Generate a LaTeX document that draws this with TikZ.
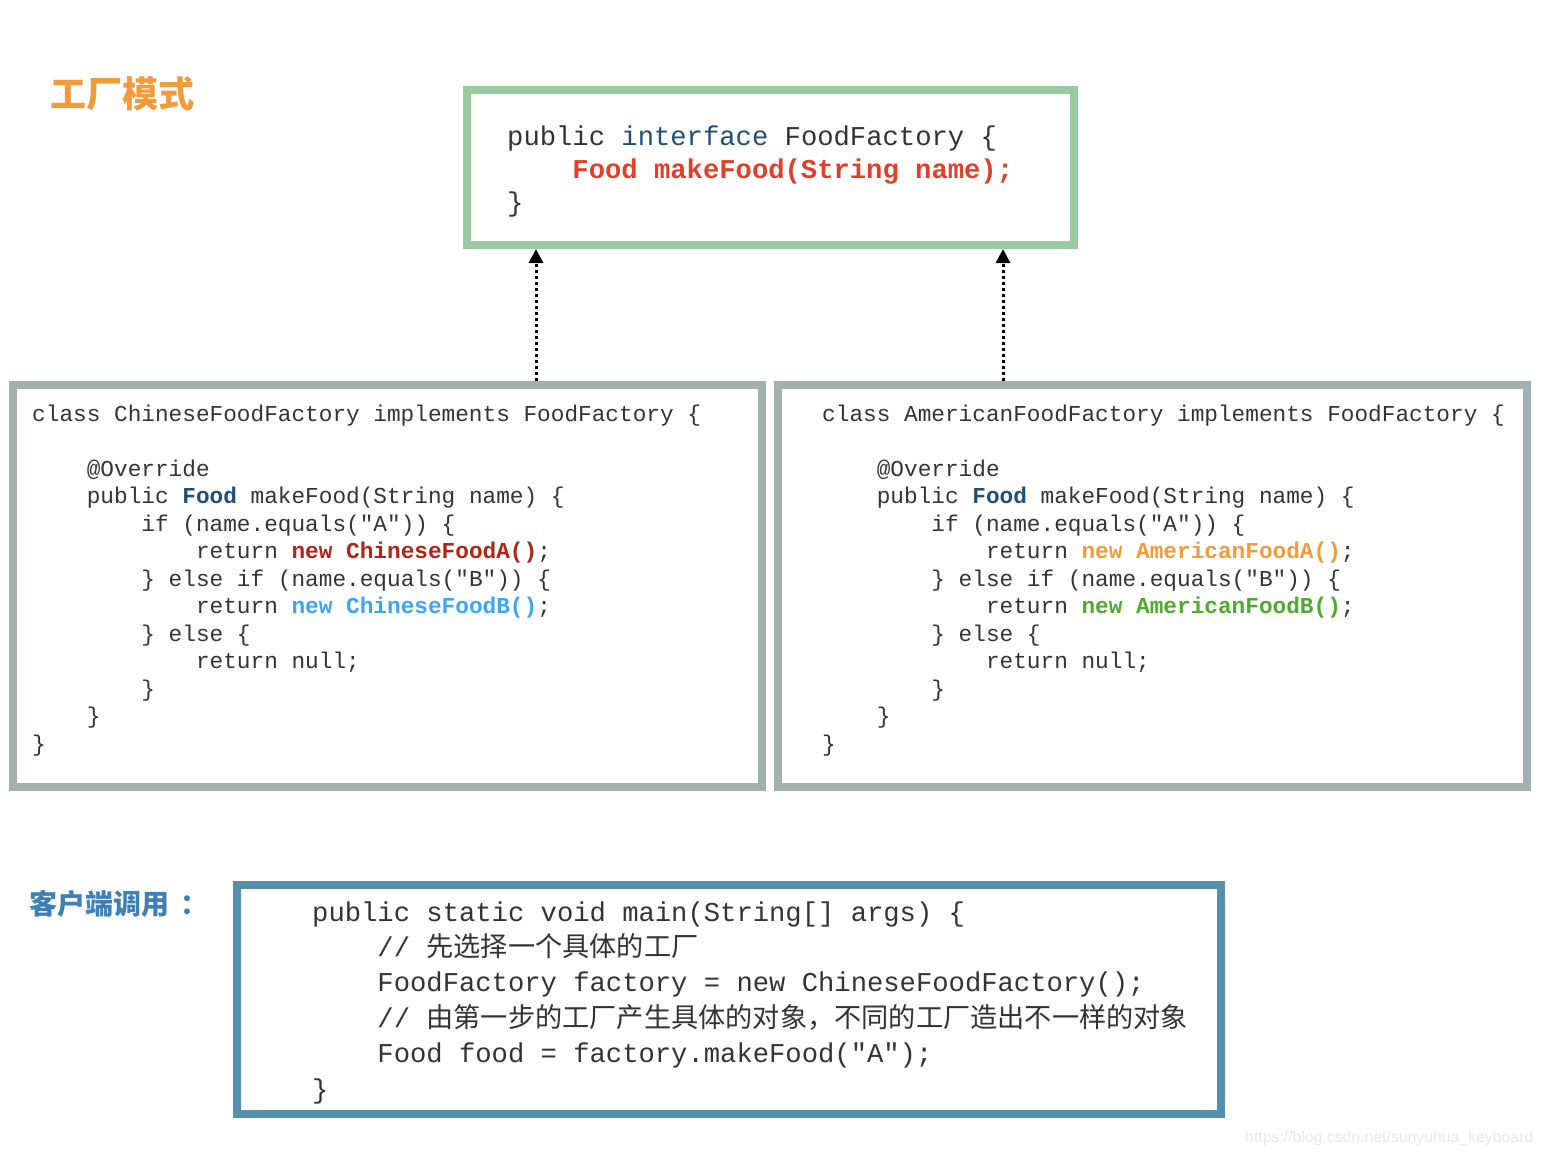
\documentclass[tikz,border=0pt]{standalone}
\usepackage{fontspec}
\setmonofont{Liberation Mono}
\newfontfamily\cjk{Noto Sans CJK SC}
\newfontfamily\wmfont{Liberation Sans}
\usetikzlibrary{arrows.meta,calc}
\definecolor{ifacegreen}{RGB}{153,203,163}
\definecolor{factgray}{RGB}{163,176,176}
\definecolor{clientframe}{RGB}{85,145,172}
\definecolor{codegray}{RGB}{51,51,51}
\definecolor{kwblue}{RGB}{31,78,121}
\definecolor{sigred}{RGB}{224,64,42}
\definecolor{cnred}{RGB}{178,36,22}
\definecolor{cnblue}{RGB}{60,165,245}
\definecolor{usorange}{RGB}{243,155,58}
\definecolor{usgreen}{RGB}{80,170,45}
\definecolor{titleorange}{RGB}{243,155,58}
\definecolor{clientblue}{RGB}{62,128,182}
\definecolor{wmgray}{RGB}{232,232,232}
\newcommand\pad[1]{\hspace*{#1\dimexpr0.6em\relax}}

\begin{document}
\begin{tikzpicture}[
        x=1pt, y=-1pt,
        frame/.style={rectangle, draw, line width=8pt, inner sep=0pt},
        code/.style={anchor=base west, inner sep=0pt, align=left, text=codegray},
        bigcode/.style={code, font=\ttfamily\fontsize{27.2}{33}\selectfont},
        smallcode/.style={code, font=\ttfamily\fontsize{22.75}{27.5}\selectfont},
        maincode/.style={code, font=\ttfamily\fontsize{27.2}{35.4}\selectfont},
        heading/.style={anchor=base west, inner sep=0pt},
        dep/.style={line width=3pt, dash pattern=on 3pt off 3pt, -{Triangle[width=14pt,length=14pt]}}
    ]
        \useasboundingbox (0,0) rectangle (1542,1154);

        % frames
        \node[frame, draw=ifacegreen, minimum width=607pt, minimum height=155pt] (iface) at (770.5,167.5) {};
        \node[frame, draw=factgray, minimum width=749.5pt, minimum height=402pt] (cnfac) at (387.25,586) {};
        \node[frame, draw=factgray, minimum width=749pt, minimum height=402pt] (usfac) at (1152.5,586) {};
        \node[frame, draw=clientframe, minimum width=984pt, minimum height=229pt] (client) at (729,999.5) {};

        % headings
        \node[heading, font=\cjk\bfseries\fontsize{36}{40}\selectfont, text=titleorange] (title) at (50.5,107.5) {工厂模式};
        \node[heading, font=\cjk\bfseries\fontsize{28}{32}\selectfont, text=clientblue] (clientlab) at (29,914) {客户端调用\hspace{11pt}：};

        % code
        \node[bigcode] (ifacecode) at (507,211) {public {\color{kwblue}interface} FoodFactory \{\\
            \pad{4}{\bfseries\color{sigred}Food makeFood(String name);}\\
            \}};

        \node[smallcode] (cncode) at (32,751) {class ChineseFoodFactory implements FoodFactory \{\\
            ~\\
            \pad{4}@Override\\
            \pad{4}public {\bfseries\color{kwblue}Food} makeFood(String name) \{\\
            \pad{8}if (name.equals("A")) \{\\
            \pad{12}return {\bfseries\color{cnred}new ChineseFoodA()};\\
            \pad{8}\} else if (name.equals("B")) \{\\
            \pad{12}return {\bfseries\color{cnblue}new ChineseFoodB()};\\
            \pad{8}\} else \{\\
            \pad{12}return null;\\
            \pad{8}\}\\
            \pad{4}\}\\
            \}};

        \node[smallcode] (uscode) at (822,751) {class AmericanFoodFactory implements FoodFactory \{\\
            ~\\
            \pad{4}@Override\\
            \pad{4}public {\bfseries\color{kwblue}Food} makeFood(String name) \{\\
            \pad{8}if (name.equals("A")) \{\\
            \pad{12}return {\bfseries\color{usorange}new AmericanFoodA()};\\
            \pad{8}\} else if (name.equals("B")) \{\\
            \pad{12}return {\bfseries\color{usgreen}new AmericanFoodB()};\\
            \pad{8}\} else \{\\
            \pad{12}return null;\\
            \pad{8}\}\\
            \pad{4}\}\\
            \}};

        \node[maincode] (maincode) at (312,1098) {public static void main(String[] args) \{\\
            \pad{4}// {\cjk 先选择一个具体的工厂}\\
            \pad{4}FoodFactory factory = new ChineseFoodFactory();\\
            \pad{4}// {\cjk 由第一步的工厂产生具体的对象，不同的工厂造出不一样的对象}\\
            \pad{4}Food food = factory.makeFood("A");\\
            \}};

        \node[heading, font=\wmfont\fontsize{15.8}{18}\selectfont, text=wmgray] (mark) at (1245,1142) {https://blog.csdn.net/sunyuhua\_keyboard};

        % implements arrows
        \coordinate (cnport) at (536,0);
        \coordinate (usport) at (1003,0);
        \draw[dep] (cnport |- cnfac.north) -- (cnport |- iface.south);
        \draw[dep] (usport |- usfac.north) -- (usport |- iface.south);
    \end{tikzpicture}
\end{document}
